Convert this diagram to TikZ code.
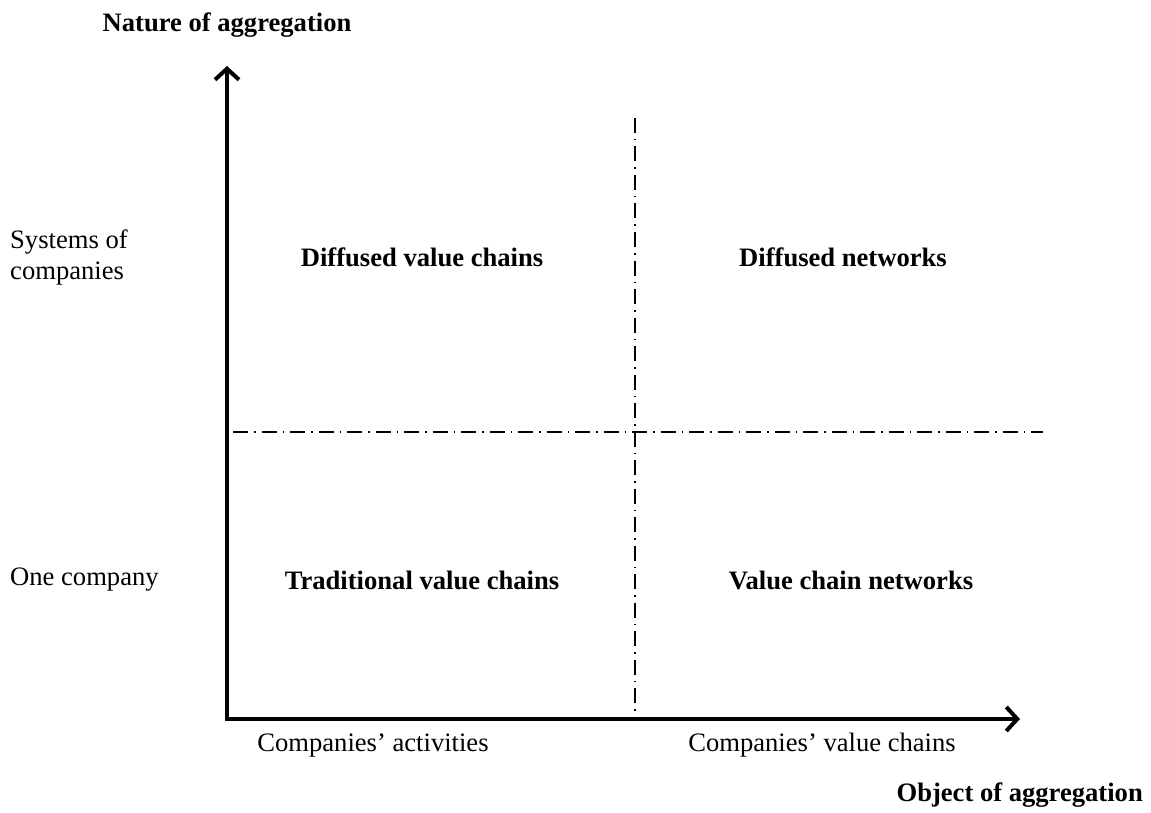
\documentclass[tikz,border=0pt]{standalone}
\usepackage{fontspec}
\setmainfont{Liberation Serif}
\usetikzlibrary{arrows.meta}
\begin{document}
\begin{tikzpicture}[x=1pt,y=-1pt,
  txt/.style={font=\fontsize{26.6}{31}\selectfont, inner sep=0pt},
  btxt/.style={txt, font=\fontsize{26.6}{31}\selectfont\bfseries},
  axis/.style={line width=4pt, -{Straight Barb[length=11pt,width=24pt]}},
  dashdot/.style={line width=1.3pt, dash pattern=on 15pt off 6pt on 1.5pt off 6pt}]
\useasboundingbox (0,0) rectangle (1151,813);
% axes
\coordinate (O) at (227,719);
\coordinate (ytip) at (227,66);
\coordinate (xtip) at (1020,719);
\coordinate (htop) at (233,432);
\coordinate (hend) at (1043,432);
\coordinate (vtop) at (635,118);
\coordinate (vbot) at (635,717);
\draw[dashdot] (htop) -- (hend);
\draw[dashdot] (vtop) -- (vbot);
\draw[axis] ([yshift=2pt]O) -- (ytip);
\draw[axis] ([xshift=-2pt]O) -- (xtip);
% labels
\node[btxt] (ny) at (227,25) {Nature of aggregation};
\node[btxt, anchor=east] (nx) at (1143,795) {Object of aggregation};
\node[txt, anchor=west, align=left] (sys) at (10,257) {Systems of\\companies};
\node[txt, anchor=west] (one) at (10,580) {One company};
\node[txt] (ca) at (373,745) {Companies’ activities};
\node[txt] (cv) at (822,745) {Companies’ value chains};
\node[btxt] (dvc) at (422,257) {Diffused value chains};
\node[btxt] (dn) at (843,257) {Diffused networks};
\node[btxt] (tvc) at (422,580) {Traditional value chains};
\node[btxt] (vcn) at (851,580) {Value chain networks};
\end{tikzpicture}
\end{document}
